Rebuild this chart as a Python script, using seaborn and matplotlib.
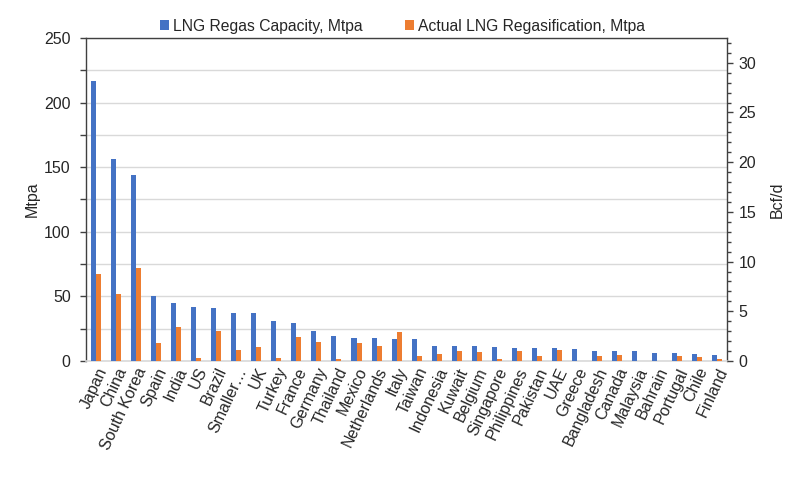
import matplotlib
matplotlib.use("Agg")
import matplotlib.pyplot as plt
import seaborn as sns
import pandas as pd
from matplotlib.ticker import MultipleLocator

countries = ["Japan", "China", "South Korea", "Spain", "India", "US", "Brazil",
             "Smaller\u2026", "UK", "Turkey", "France", "Germany", "Thailand",
             "Mexico", "Netherlands", "Italy", "Taiwan", "Indonesia", "Kuwait",
             "Belgium", "Singapore", "Philippines", "Pakistan", "UAE", "Greece",
             "Bangladesh", "Canada", "Malaysia", "Bahrain", "Portugal", "Chile",
             "Finland"]
capacity = [217, 156, 144, 50, 44.5, 41.4, 40.6, 37.5, 36.8, 31.3, 29, 23,
            19.3, 18, 18, 17, 16.7, 11.6, 11.6, 11.6, 11, 10, 10, 10, 9,
            7.7, 7.7, 7.7, 6.4, 6.4, 5.7, 4.6]
actual = [67, 51.5, 72, 13.6, 26, 2, 23, 8.5, 10.8, 2, 18.5, 14.6,
          1.5, 13.6, 11.6, 22.6, 3.6, 5.4, 7.7, 6.7, 1.5, 7.7, 3.9, 8.2, 0,
          3.9, 4.6, 0, 0, 3.9, 2.8, 1.8]
series_names = ["LNG Regas Capacity, Mtpa", "Actual LNG Regasification, Mtpa"]
left_label = "Mtpa"
right_label = "Bcf/d"
mtpa_to_bcfd = 0.13

blue = "#4472C4"
orange = "#ED7D31"

sns.set_theme(style="white")
plt.rcParams["font.family"] = ["Liberation Sans", "DejaVu Sans"]

n = len(countries)
df = pd.DataFrame({
    "Country": countries * 2,
    "Value": capacity + actual,
    "Series": [series_names[0]] * n + [series_names[1]] * n,
})

fig = plt.figure(figsize=(8, 4.8), dpi=100)
ax = fig.add_axes([0.1075, 0.248, 0.8015, 0.673])
sns.barplot(data=df, x="Country", y="Value", hue="Series",
            hue_order=series_names, palette=[blue, orange], width=0.5,
            saturation=1, ax=ax, edgecolor="none", linewidth=0, zorder=3)

handles, labels = ax.get_legend_handles_labels()
if ax.get_legend() is not None:
    ax.get_legend().remove()
fig.legend(handles, labels, loc="upper center", bbox_to_anchor=(0.503, 0.99),
           ncol=2, frameon=False, fontsize=11.3, handlelength=0.6,
           handleheight=0.6, handletextpad=0.25, columnspacing=2.7)

ymax = 250
ax.set_xlim(-0.5, n - 0.5)
ax.set_ylim(0, ymax)
ax.yaxis.set_major_locator(MultipleLocator(50))
ax.yaxis.set_minor_locator(MultipleLocator(25))
ax.grid(axis="y", which="both", color="#d9d9d9", linewidth=1, zorder=0)
ax.set_axisbelow(True)
ax.set_xlabel("")
ax.set_ylabel(left_label, fontsize=11.5, labelpad=3)
ax.tick_params(axis="y", which="both", direction="out", length=4, width=1,
               color="#404040", left=True, labelsize=11.5, pad=7)
ax.tick_params(axis="y", which="minor", labelleft=False)
ax.tick_params(axis="x", length=0, labelsize=11.5, pad=3)
plt.setp(ax.get_xticklabels(), rotation=65, ha="right", rotation_mode="anchor")

for side in ["left", "right", "top"]:
    ax.spines[side].set_color("#404040")
    ax.spines[side].set_linewidth(1)
ax.spines["bottom"].set_color("#d9d9d9")
ax.spines["bottom"].set_linewidth(1.2)

ax2 = ax.twinx()
ax2.set_ylim(0, ymax * mtpa_to_bcfd)
ax2.yaxis.set_major_locator(MultipleLocator(5))
ax2.yaxis.set_minor_locator(MultipleLocator(1))
ax2.tick_params(axis="y", which="major", direction="out", length=4, width=1,
                color="#404040", right=True, labelsize=11.5, pad=4)
ax2.tick_params(axis="y", which="minor", direction="out", length=3, width=1,
                color="#404040", right=True)
ax2.set_ylabel(right_label, fontsize=11.5, labelpad=10)
for side in ["left", "right", "top", "bottom"]:
    ax2.spines[side].set_visible(False)
ax2.grid(False)

fig.savefig("out.png", dpi=100)
